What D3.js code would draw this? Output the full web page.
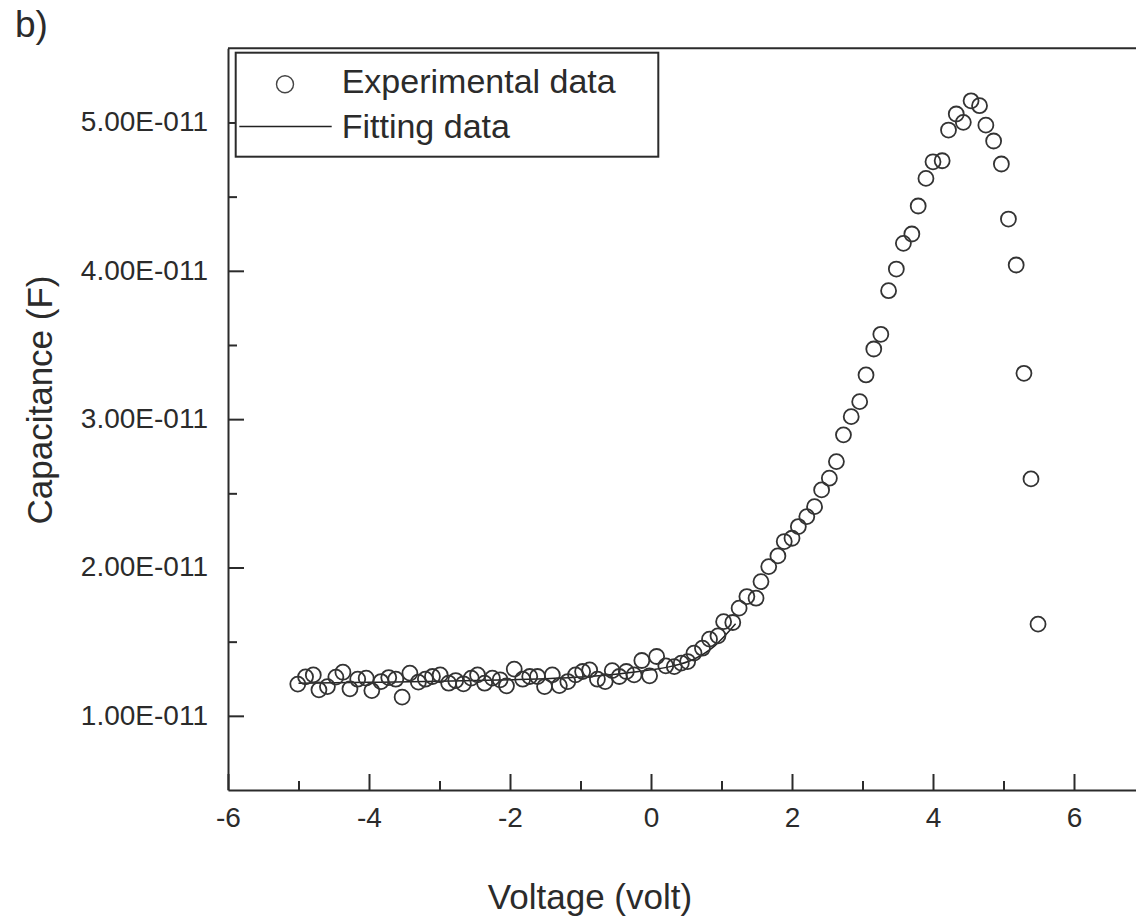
<!DOCTYPE html>
<html lang="en">
<head>
    <meta charset="UTF-8">
    <script src="https://d3js.org/d3.v7.min.js"></script>
    <style>
        body {margin: 0; background-color: #ffffff}
        svg {display: block;}
        text {font-family: "Liberation Sans", Arial, sans-serif; fill: #2b2b2b}
    </style>
</head>
<body>
<svg class="cv_chart"></svg>
<script type="text/javascript">
    // measured points (voltage in V, capacitance in units of 1E-011 F)
    const voltage = [-5.01, -4.90, -4.79, -4.71, -4.59, -4.47, -4.37, -4.27, -4.16, -4.04,
        -3.96, -3.83, -3.72, -3.62, -3.53, -3.42, -3.30, -3.20, -3.10, -2.99,
        -2.87, -2.77, -2.66, -2.55, -2.46, -2.36, -2.25, -2.14, -2.05, -1.94,
        -1.82, -1.72, -1.61, -1.51, -1.40, -1.30, -1.18, -1.07, -0.97, -0.87,
        -0.76, -0.65, -0.55, -0.45, -0.35, -0.24, -0.13, -0.02, 0.08, 0.21,
        0.33, 0.43, 0.52, 0.61, 0.73, 0.83, 0.95, 1.03, 1.16, 1.25,
        1.36, 1.49, 1.56, 1.67, 1.80, 1.89, 2.00, 2.09, 2.21, 2.32,
        2.42, 2.53, 2.63, 2.73, 2.84, 2.96, 3.05, 3.16, 3.26, 3.37,
        3.48, 3.58, 3.70, 3.79, 3.90, 4.00, 4.13, 4.22, 4.33, 4.43,
        4.54, 4.66, 4.75, 4.86, 4.97, 5.07, 5.18, 5.29, 5.39, 5.49];
    const capacitance = [1.214, 1.263, 1.276, 1.175, 1.197, 1.261, 1.294, 1.182, 1.247, 1.254,
        1.170, 1.231, 1.258, 1.247, 1.126, 1.288, 1.227, 1.247, 1.265, 1.276,
        1.220, 1.238, 1.216, 1.254, 1.276, 1.220, 1.254, 1.243, 1.202, 1.315,
        1.247, 1.265, 1.265, 1.197, 1.276, 1.204, 1.231, 1.276, 1.299, 1.310,
        1.247, 1.231, 1.305, 1.265, 1.299, 1.276, 1.373, 1.270, 1.400, 1.337,
        1.332, 1.355, 1.366, 1.423, 1.456, 1.517, 1.539, 1.635, 1.629, 1.726,
        1.804, 1.793, 1.905, 2.006, 2.078, 2.175, 2.197, 2.276, 2.343, 2.410,
        2.523, 2.602, 2.714, 2.894, 3.017, 3.118, 3.298, 3.473, 3.572, 3.866,
        4.012, 4.185, 4.248, 4.437, 4.623, 4.735, 4.742, 4.949, 5.057, 5.001,
        5.146, 5.113, 4.982, 4.875, 4.720, 4.349, 4.039, 3.309, 2.597, 1.618];

    // fitted curve
    const fitVoltage = [-5.0, -4.0, -3.0, -2.0, -1.0, -0.5, 0.0, 0.3, 0.6, 0.9, 1.2];
    const fitCapacitance = [1.22, 1.226, 1.233, 1.243, 1.262, 1.28, 1.31, 1.335, 1.38, 1.47, 1.62];

    const xMajor = [-6, -4, -2, 0, 2, 4, 6];
    const xMinor = [-5, -3, -1, 1, 3, 5];
    const yMajor = [1, 2, 3, 4, 5];
    const yMinor = [1.5, 2.5, 3.5, 4.5];

    const legendItems = ['Experimental data', 'Fitting data'];

    let chart_width = 1136, chart_height = 919;
    let plot_left = 228, plot_top = 48.3, plot_bottom = 790;

    var svg = d3.select('.cv_chart')
        .attr('width', chart_width)
        .attr('height', chart_height);

    // the frame runs on past the right edge of the picture (to 8 V)
    var x_range = d3.scaleLinear()
        .domain([-6, 8])
        .range([plot_left, plot_left + 14 * 70.5]);

    var y_range = d3.scaleLinear()
        .domain([0.5, 5.5])
        .range([plot_bottom, plot_top]);

    // frame top line
    svg.append('line')
        .attr('x1', x_range(-6)).attr('x2', x_range(8))
        .attr('y1', plot_top).attr('y2', plot_top)
        .attr('stroke', '#2b2b2b').attr('stroke-width', 2);

    // bottom axis
    var gx = svg.append('g').attr('transform', 'translate(0,' + plot_bottom + ')');
    gx.call(d3.axisBottom(x_range).tickValues(xMajor).tickSize(-16).tickSizeOuter(0).tickPadding(17)
        .tickFormat(d => d < 0 ? '-' + Math.abs(d) : d));
    gx.append('g').call(d3.axisBottom(x_range).tickValues(xMinor).tickSize(-9).tickFormat(''))
        .select('.domain').remove();

    // left axis
    var gy = svg.append('g').attr('transform', 'translate(' + plot_left + ',0)');
    gy.call(d3.axisLeft(y_range).tickValues(yMajor).tickSize(-16).tickSizeOuter(0).tickPadding(20)
        .tickFormat(d => d.toFixed(2) + 'E-011'));
    gy.append('g').call(d3.axisLeft(y_range).tickValues(yMinor).tickSize(-9).tickFormat(''))
        .select('.domain').remove();

    svg.selectAll('.domain, .tick line').attr('stroke', '#2b2b2b').attr('stroke-width', 2);
    gx.selectAll('.tick text').attr('font-size', 28).attr('fill', '#333')
        .attr('font-family', '"Liberation Sans", Arial, sans-serif');
    gy.selectAll('.tick text').attr('font-size', 28).attr('fill', '#333')
        .attr('font-family', '"Liberation Sans", Arial, sans-serif').attr('dy', '0.3em');

    // fitted line
    var line = d3.line()
        .x((d, i) => x_range(fitVoltage[i]))
        .y(d => y_range(d))
        .curve(d3.curveMonotoneX);
    svg.append('path')
        .datum(fitCapacitance)
        .attr('d', line)
        .attr('fill', 'none')
        .attr('stroke', '#222')
        .attr('stroke-width', 1.5);

    // experimental points
    svg.append('g').selectAll('circle')
        .data(capacitance)
        .enter()
        .append('circle')
        .attr('cx', (d, i) => x_range(voltage[i]))
        .attr('cy', d => y_range(d))
        .attr('r', 7.5)
        .attr('fill', 'none')
        .attr('stroke', '#333')
        .attr('stroke-width', 1.8);

    // legend
    var legend = svg.append('g');
    legend.append('rect')
        .attr('x', 235.7).attr('y', 52.7)
        .attr('width', 658.3 - 235.7).attr('height', 156.7 - 52.7)
        .attr('fill', '#fff').attr('stroke', '#2b2b2b').attr('stroke-width', 2);
    legend.append('circle')
        .attr('cx', 285).attr('cy', 84.3).attr('r', 8.5)
        .attr('fill', 'none').attr('stroke', '#444').attr('stroke-width', 1.4);
    legend.append('line')
        .attr('x1', 239.3).attr('x2', 331.7).attr('y1', 126.5).attr('y2', 126.5)
        .attr('stroke', '#222').attr('stroke-width', 1.5);
    legendItems.forEach((t, i) => {
        legend.append('text')
            .attr('x', 341.7).attr('y', 93.3 + i * 44.5)
            .attr('font-size', 34)
            .text(t);
    });

    // axis titles
    svg.append('text')
        .attr('x', 590).attr('y', 909)
        .attr('text-anchor', 'middle')
        .attr('font-size', 35)
        .text('Voltage (volt)');
    svg.append('text')
        .attr('transform', 'translate(52,400) rotate(-90)')
        .attr('text-anchor', 'middle')
        .attr('font-size', 35)
        .text('Capacitance (F)');

    svg.append('text')
        .attr('x', 15).attr('y', 37)
        .attr('font-size', 37)
        .text('b)');
</script>
</body>
</html>
